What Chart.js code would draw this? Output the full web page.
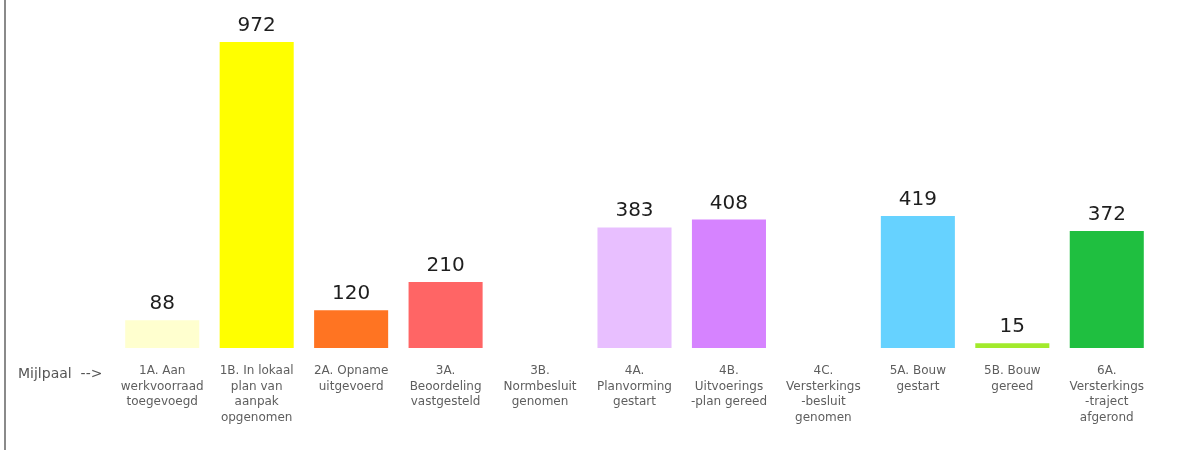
<!DOCTYPE html>
<html>
<head>
<meta charset="utf-8">
<script src="https://cdn.jsdelivr.net/npm/chart.js@4"></script>
<style>
  body { margin: 0; background: #fff; }
  #wrap { position: relative; width: 1178px; height: 450px; }
  #lijn { position: absolute; left: 4px; top: 0; width: 2px; height: 450px; background: #8a8a8a; }
</style>
</head>
<body>
<div id="wrap">
  <canvas id="grafiek" width="1178" height="450"></canvas>
  <div id="lijn"></div>
</div>
<script>
var mijlpalen = [
  ['1A. Aan', 'werkvoorraad', 'toegevoegd'],
  ['1B. In lokaal', 'plan van', 'aanpak', 'opgenomen'],
  ['2A. Opname', 'uitgevoerd'],
  ['3A.', 'Beoordeling', 'vastgesteld'],
  ['3B.', 'Normbesluit', 'genomen'],
  ['4A.', 'Planvorming', 'gestart'],
  ['4B.', 'Uitvoerings', '-plan gereed'],
  ['4C.', 'Versterkings', '-besluit', 'genomen'],
  ['5A. Bouw', 'gestart'],
  ['5B. Bouw', 'gereed'],
  ['6A.', 'Versterkings', '-traject', 'afgerond']
];
var aantallen = [88, 972, 120, 210, null, 383, 408, null, 419, 15, 372];
var kleuren = ['#ffffcf', '#ffff00', '#ff7422', '#ff6565', '#ffffff', '#e8bfff', '#d683ff',
  '#ffffff', '#66d2ff', '#a2ea2c', '#1fbf40'];

// waarde boven elke balk
var waardeLabels = {
  id: 'waardeLabels',
  afterDatasetsDraw(chart) {
    var c = chart.ctx;
    var meta = chart.getDatasetMeta(0);
    c.save();
    c.font = '20px "DejaVu Sans"';
    c.fillStyle = '#1e1e1e';
    c.textAlign = 'center';
    c.textBaseline = 'alphabetic';
    meta.data.forEach(function (bar, i) {
      if (aantallen[i] == null) return;
      c.fillText(aantallen[i], bar.x, bar.y - 11);
    });
    c.restore();
  }
};

// tekst "Mijlpaal -->" links van de as
var mijlpaalTekst = {
  id: 'mijlpaalTekst',
  afterDraw(chart) {
    var c = chart.ctx;
    var x = chart.scales.x;
    c.save();
    c.font = '14px "DejaVu Sans"';
    c.fillStyle = '#555';
    c.textBaseline = 'middle';
    c.fillText('Mijlpaal  -->', 18, x.top + 26);
    c.restore();
  }
};

const ctx = document.getElementById('grafiek').getContext('2d');
const grafiek = new Chart(ctx, {
  type: 'bar',
  data: {
    labels: mijlpalen,
    datasets: [{
      data: aantallen,
      backgroundColor: kleuren,
      borderWidth: 0,
      barPercentage: 0.784,
      categoryPercentage: 1
    }]
  },
  options: {
    responsive: false,
    animation: false,
    layout: { padding: { left: 115, right: 24, top: 42, bottom: 0 } },
    plugins: {
      legend: { display: false },
      tooltip: { enabled: false }
    },
    scales: {
      x: {
        grid: { display: false, drawTicks: false },
        border: { display: false },
        ticks: {
          padding: 15,
          autoSkip: false,
          maxRotation: 0,
          color: '#5e5e5e',
          font: { family: 'DejaVu Sans', size: 12, lineHeight: 1.3 }
        },
        afterFit: function (s) { s.height = 102; }
      },
      y: {
        display: false,
        min: 0,
        max: 972
      }
    }
  },
  plugins: [waardeLabels, mijlpaalTekst]
});
</script>
</body>
</html>
